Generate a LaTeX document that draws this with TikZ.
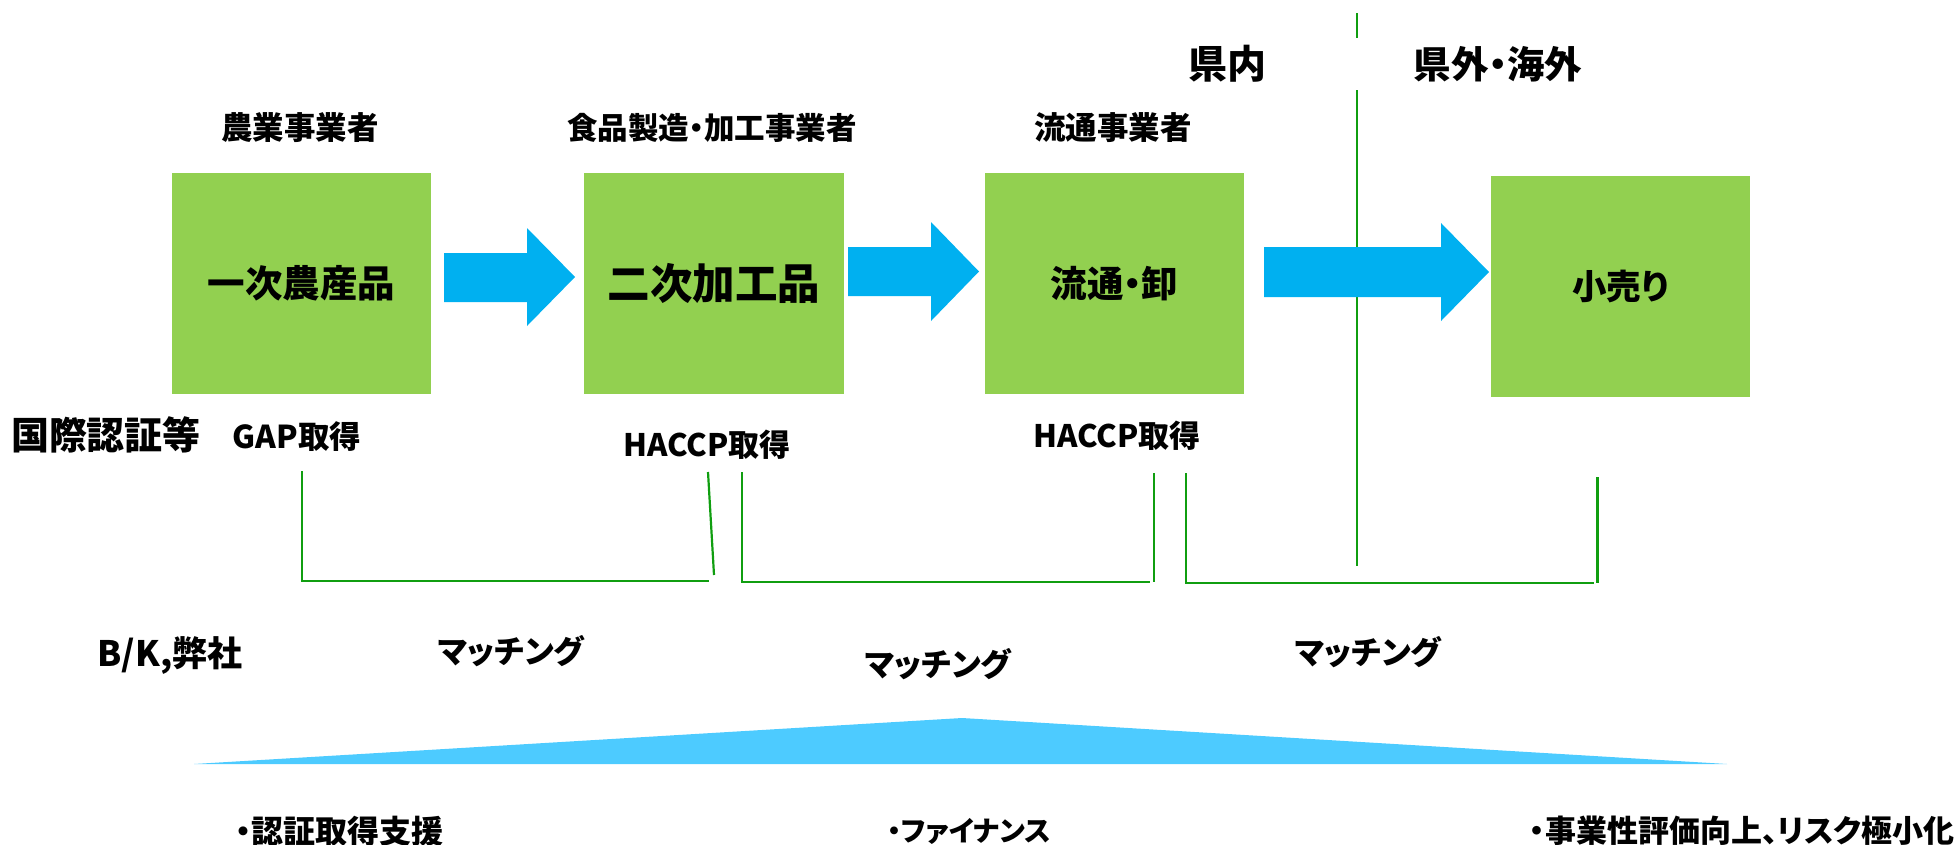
\documentclass[tikz,border=0pt]{standalone}
\usepackage{fontspec}
\setmainfont{Noto Sans CJK JP}[RawFeature=+palt]
\definecolor{boxgreen}{HTML}{92D050}
\definecolor{arrowblue}{HTML}{00B0F0}
\definecolor{triblue}{HTML}{4DCBFF}
\definecolor{lgreen}{RGB}{16,158,16}
\newcommand{\fs}[1]{\fontsize{#1}{#1}\selectfont\bfseries}
\begin{document}
\begin{tikzpicture}[x=1pt,y=-1pt,
  box/.style={fill=boxgreen, draw=none, inner sep=0pt, minimum width=259pt, minimum height=221pt},
  lbl/.style={inner sep=0pt, font=\fs{31.5}},
  gline/.style={draw=lgreen, line width=2.2pt},
  barrow/.style={fill=arrowblue, draw=none}]
\useasboundingbox (0,0) rectangle (1960,844);

% divider line (behind arrows)
\draw[gline, line width=2pt] (1357,13) -- (1357,38);
\draw[gline, line width=2pt] (1357,90) -- (1357,566);

% boxes
\node[box, font=\fs{37.5}] (b1) at (301.5,283.5) {一次農産品};
\node[box, minimum width=260pt, font=\fs{42.5}] (b2) at (714,283.5) {二次加工品};
\node[box, font=\fs{36.5}] (b3) at (1114.5,283.5) {流通・卸};
\node[box, font=\fs{34.5}] (b4) at (1620.5,286.5) {小売り};

% block arrows
\fill[barrow] (444,253) -- (527,253) -- (527,228) -- (575,277) -- (527,326) -- (527,302) -- (444,302) -- cycle;
\fill[barrow] (848,247) -- (931,247) -- (931,222) -- (979,271.5) -- (931,321) -- (931,296) -- (848,296) -- cycle;
\fill[barrow] (1264,247) -- (1441,247) -- (1441,223) -- (1489,272) -- (1441,321) -- (1441,297) -- (1264,297) -- cycle;

% headings
\node[lbl] (h1) at (300,128) {農業事業者};
\node[lbl, font=\fs{30.5}] (h2) at (712,128) {食品製造・加工事業者};
\node[lbl] (h3) at (1113,128) {流通事業者};
\node[lbl, font=\fs{39}] (in) at (1227,64) {県内};
\node[lbl, font=\fs{37.5}] (out) at (1498,64) {県外・海外};

% certification row
\node[lbl, font=\fs{38}] (cert) at (106,435) {国際認証等};
\node[lbl] (c1) at (297,437) {GAP取得};
\node[lbl, font=\fs{31}] (c2) at (707,445) {HACCP取得};
\node[lbl, font=\fs{31}] (c3) at (1117,436) {HACCP取得};

% brackets
\draw[gline] (302,471) |- (709,581);
\draw[gline] (708,472) -- (714,575);
\draw[gline] (742,472) |- (1150,582);
\draw[gline] (1154,473) -- (1154,582);
\draw[gline] (1186,473) |- (1594,583);
\draw[gline] (1597.5,477) -- (1597.5,583);

% matching row
\node[lbl, font=\fs{35}] (bk) at (170,655) {B/K,弊社};
\node[lbl, font=\fs{32}] (m1) at (511,651) {マッチング};
\node[lbl, font=\fs{32}] (m2) at (938,664) {マッチング};
\node[lbl, font=\fs{32}] (m3) at (1368,652) {マッチング};

% triangle
\fill[triblue] (194,764) -- (962,718) -- (1727,764) -- cycle;

% bottom texts
\node[lbl, font=\fs{32}] (s1) at (339,831) {・認証取得支援};
\node[lbl, font=\fs{28}] (s2) at (969,831) {・ファイナンス};
\node[lbl, font=\fs{31}] (s3) at (1742,831) {・事業性評価向上、リスク極小化};
\end{tikzpicture}
\end{document}
